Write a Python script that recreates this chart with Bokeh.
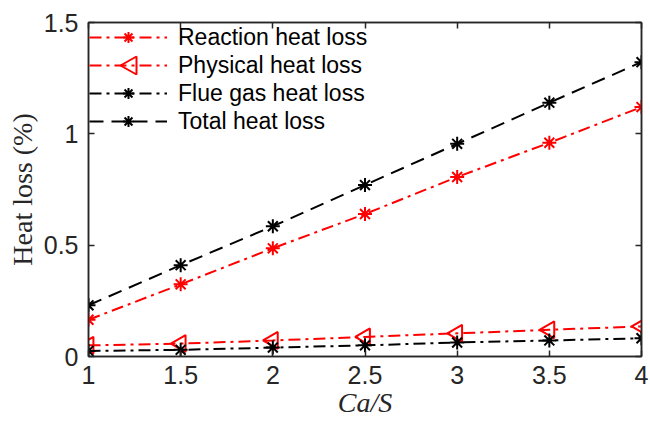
import math
from bokeh.plotting import figure
from bokeh.models import (ColumnDataSource, Range1d, LinearAxis, FixedTicker,
                          Legend, LegendItem, CustomLabelingPolicy, PolyAnnotation)
from bokeh.embed import file_html
from bokeh.resources import INLINE

# ---- data ----
ca_s = [1, 1.5, 2, 2.5, 3, 3.5, 4]
reaction_loss = [0.165, 0.324, 0.486, 0.64, 0.806, 0.96, 1.12]
physical_loss = [0.05, 0.058, 0.072, 0.088, 0.104, 0.12, 0.135]
flue_gas_loss = [0.025, 0.03, 0.04, 0.05, 0.063, 0.072, 0.082]
total_loss = [0.23, 0.41, 0.585, 0.77, 0.955, 1.14, 1.322]

series_names = ["Reaction heat loss", "Physical heat loss",
                "Flue gas heat loss", "Total heat loss"]

x_ticks = [1, 1.5, 2, 2.5, 3, 3.5, 4]
x_tick_labels = ["1", "1.5", "2", "2.5", "3", "3.5", "4"]
y_ticks = [0, 0.5, 1, 1.5]
y_tick_labels = ["0", "0.5", "1", "1.5"]

# ---- layout / style ----
W, H = 650, 424
B_LEFT, B_RIGHT, B_TOP, B_BOTTOM = 88, 9, 22, 68
X0, X1, Y0, Y1 = 1, 4, 0, 1.5
AX = "#262626"
TICK_FONT = "Liberation Sans"
LABEL_FONT = "Liberation Serif"

p = figure(width=W, height=H, output_backend="svg", toolbar_location=None,
           x_range=Range1d(X0, X1), y_range=Range1d(Y0, Y1),
           min_border_left=B_LEFT, min_border_right=B_RIGHT, min_border_top=B_TOP,
           min_border_bottom=B_BOTTOM)
p.xgrid.visible = False
p.ygrid.visible = False
p.outline_line_color = AX
p.outline_line_width = 1.5
p.background_fill_color = "white"
p.border_fill_color = "white"

src = ColumnDataSource(dict(x=ca_s, r=reaction_loss, ph=physical_loss,
                            f=flue_gas_loss, t=total_loss))

DASHDOT = "12 5 3 5"
DASHED = "14 8"
STAR = 14
TRI = 17

r_line = p.line("x", "r", source=src, line_color="red", line_width=2, line_dash=DASHDOT)
r_mark = p.scatter("x", "r", source=src, marker="asterisk", size=STAR,
                   line_color="red", line_width=2)
ph_line = p.line("x", "ph", source=src, line_color="red", line_width=2, line_dash=DASHDOT)
ph_mark = p.scatter("x", "ph", source=src, marker="triangle", size=TRI, angle=math.pi / 2,
                    line_color="red", line_width=2, fill_color=None)
f_line = p.line("x", "f", source=src, line_color="black", line_width=2, line_dash=DASHDOT)
f_mark = p.scatter("x", "f", source=src, marker="asterisk", size=STAR,
                   line_color="black", line_width=2)
t_line = p.line("x", "t", source=src, line_color="black", line_width=2, line_dash=DASHED)
t_mark = p.scatter("x", "t", source=src, marker="asterisk", size=STAR,
                   line_color="black", line_width=2)

x_over = {v: s for v, s in zip(x_ticks, x_tick_labels)}
y_over = {v: s for v, s in zip(y_ticks, y_tick_labels)}


def style_axis(ax, ticks, overrides, show_labels):
    ax.ticker = FixedTicker(ticks=ticks)
    ax.axis_line_color = AX
    ax.axis_line_width = 1.5
    ax.major_tick_line_color = AX
    ax.major_tick_line_width = 1.5
    ax.major_tick_in = 6
    ax.major_tick_out = 0
    ax.minor_tick_line_color = None
    if show_labels:
        ax.major_label_overrides = overrides
        ax.major_label_text_font = TICK_FONT
        ax.major_label_text_font_size = "25px"
        ax.major_label_text_color = AX
    else:
        ax.major_label_policy = CustomLabelingPolicy(code="return new Set()")
        ax.major_label_text_font_size = "0px"
        ax.major_label_standoff = 0


xa = p.xaxis[0]
ya = p.yaxis[0]
style_axis(xa, x_ticks, x_over, True)
style_axis(ya, y_ticks, y_over, True)
xa.major_label_standoff = 9
ya.major_label_standoff = 10
xa.axis_label = "Ca/S"
xa.axis_label_text_font = LABEL_FONT
xa.axis_label_text_font_style = "italic"
xa.axis_label_text_font_size = "28px"
xa.axis_label_text_color = AX
xa.axis_label_standoff = 0
ya.axis_label = "Heat loss (%)"
ya.axis_label_text_font = LABEL_FONT
ya.axis_label_text_font_style = "normal"
ya.axis_label_text_font_size = "28px"
ya.axis_label_text_color = AX
ya.axis_label_standoff = 3

top_ax = LinearAxis()
right_ax = LinearAxis()
style_axis(top_ax, x_ticks, x_over, False)
style_axis(right_ax, y_ticks, y_over, False)
p.add_layout(top_ax, "above")
p.add_layout(right_ax, "right")

# ---- legend ----
GLYPH_W, GLYPH_H, SPACING = 78, 28, 0
legend = Legend(items=[
    LegendItem(label=series_names[0], renderers=[r_line, r_mark]),
    LegendItem(label=series_names[1], renderers=[ph_line]),
    LegendItem(label=series_names[2], renderers=[f_line, f_mark]),
    LegendItem(label=series_names[3], renderers=[t_line, t_mark]),
], location="top_left")
legend.label_text_font = TICK_FONT
legend.label_text_font_size = "23px"
legend.label_text_color = "black"
legend.glyph_width = GLYPH_W
legend.glyph_height = GLYPH_H
legend.label_height = GLYPH_H
legend.label_standoff = 11
legend.spacing = SPACING
legend.padding = 0
legend.margin = 1
legend.border_line_alpha = 0
legend.background_fill_alpha = 0
p.add_layout(legend)

# left-pointing triangle symbol for the "Physical heat loss" legend entry
frame_w = W - B_LEFT - B_RIGHT
frame_h = H - B_TOP - B_BOTTOM
cx_px = 1 + GLYPH_W / 2
cy_px = 1 + (GLYPH_H + SPACING) * 1 + GLYPH_H / 2
half_w, half_h = 8, 9


def px_to_x(px):
    return X0 + px / frame_w * (X1 - X0)


def px_to_y(py):
    return Y1 - py / frame_h * (Y1 - Y0)


tri = PolyAnnotation(
    xs=[px_to_x(cx_px - half_w), px_to_x(cx_px + half_w), px_to_x(cx_px + half_w)],
    ys=[px_to_y(cy_px), px_to_y(cy_px - half_h), px_to_y(cy_px + half_h)],
    line_color="red", line_width=2, fill_alpha=0, line_alpha=1)
p.add_layout(tri)

open("out.html", "w").write(file_html(p, INLINE))
